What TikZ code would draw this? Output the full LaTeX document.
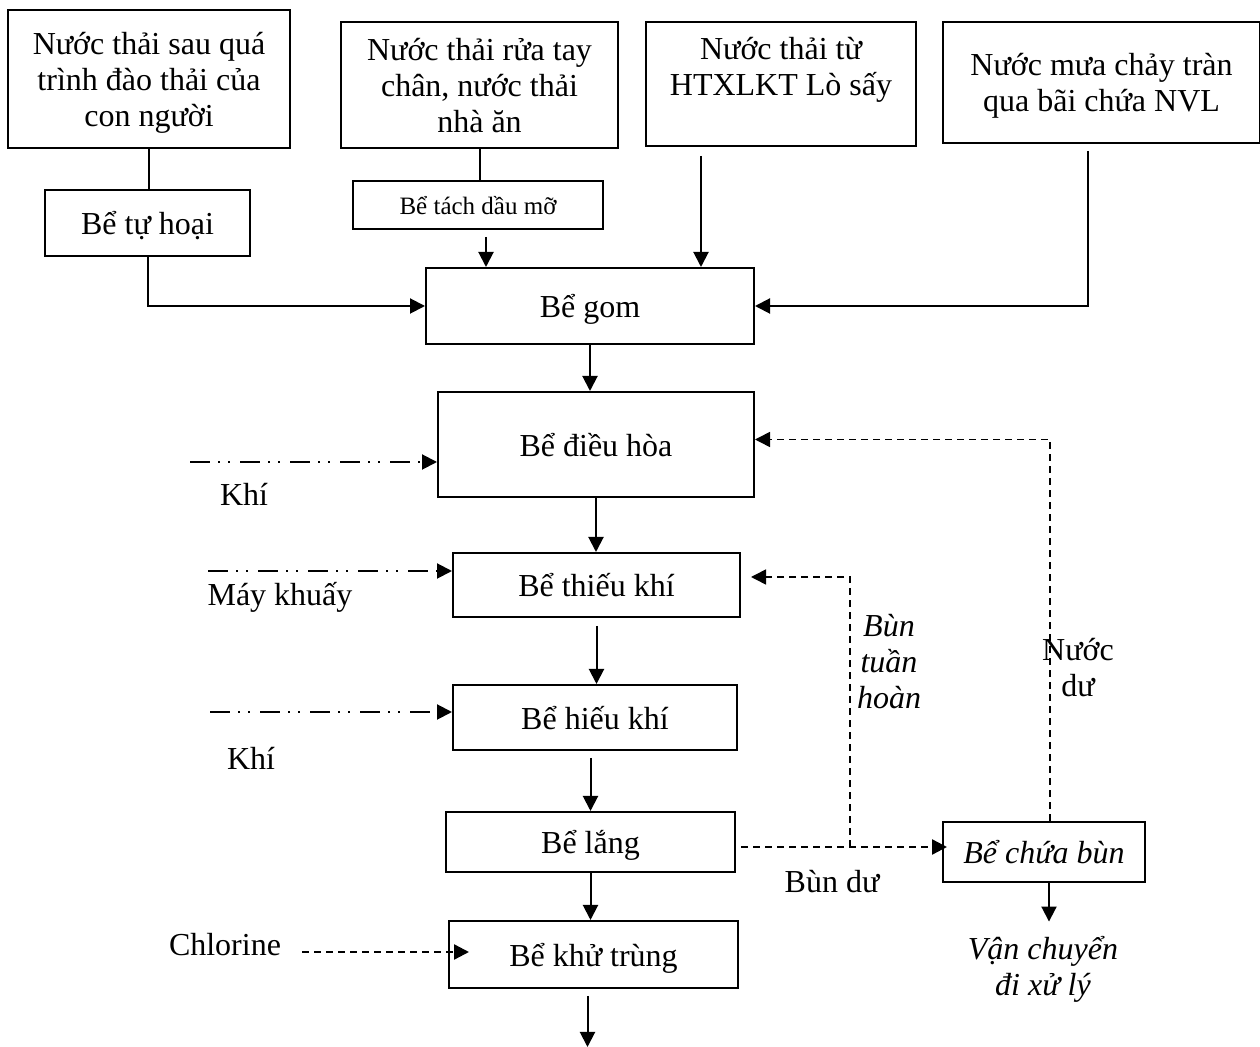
\documentclass[tikz,border=0pt]{standalone}
\usepackage{fontspec}
\setmainfont{Liberation Serif}
\usetikzlibrary{arrows.meta}
\tikzset{
  box/.style={draw,line width=1pt,align=center,inner sep=2pt,text depth=0pt,font=\fontsize{16}{18}\selectfont},
  smallbox/.style={box,font=\fontsize{12.5}{14}\selectfont},
  lbl/.style={align=center,inner sep=0pt,font=\fontsize{16}{18}\selectfont},
  arrow/.style={-{Triangle[length=7.5pt,width=7.5pt]},line width=1pt},
  dasharrow/.style={arrow,line width=1.2pt,dash pattern=on 3.5pt off 2.5pt},
  gasarrow/.style={arrow,dash pattern=on 10pt off 4pt on 1pt off 4pt on 1pt off 5pt},
}
\begin{document}
\begin{tikzpicture}[x=0.5pt,y=-0.5pt]
  \useasboundingbox (0,0) rectangle (1260,1047);
  % sources
  \node[box,minimum width=141pt,minimum height=69pt] (top1) at (149,79) {Nước thải sau quá\\trình đào thải của\\con người};
  \node[box,minimum width=138.5pt,minimum height=63pt] (top2) at (479.5,85) {Nước thải rửa tay\\chân, nước thải\\nhà ăn};
  \node[box,minimum width=135pt,minimum height=62pt] (top3) at (781,84) {Nước thải từ\\HTXLKT Lò sấy\\\strut};
  \node[box,minimum width=158.5pt,minimum height=60.5pt] (top4) at (1101.5,82.5) {Nước mưa chảy tràn\\qua bãi chứa NVL};
  \node[box,minimum width=102.5pt,minimum height=33pt] (tuhoai) at (147.5,223) {Bể tự hoại};
  \node[smallbox,minimum width=125pt,minimum height=24pt] (tachdau) at (478,205) {Bể tách dầu mỡ};
  % treatment line
  \node[box,minimum width=164pt,minimum height=38pt] (gom) at (590,306) {Bể gom};
  \node[box,minimum width=158pt,minimum height=52.5pt] (dieuhoa) at (596,444.5) {Bể điều hòa};
  \node[box,minimum width=143.5pt,minimum height=32pt] (thieukhi) at (596.5,585) {Bể thiếu khí};
  \node[box,minimum width=142pt,minimum height=32.5pt] (hieukhi) at (595,717.5) {Bể hiếu khí};
  \node[box,minimum width=144.5pt,minimum height=30pt] (lang) at (590.5,842) {Bể lắng};
  \node[box,minimum width=144.5pt,minimum height=33.5pt] (khutrung) at (593.5,954.5) {Bể khử trùng};
  \node[box,minimum width=101pt,minimum height=30pt,font=\fontsize{16}{18}\selectfont\itshape] (chuabun) at (1044,852) {Bể chứa bùn};
  % labels
  \node[lbl] (khi1) at (244,494) {Khí};
  \node[lbl] (khuay) at (280,597) {Máy khuấy};
  \node[lbl] (khi2) at (251,758) {Khí};
  \node[lbl] (chlorine) at (225,945) {Chlorine};
  \node[lbl] (bundu) at (832,882) {Bùn dư};
  \node[lbl,font=\fontsize{16}{18}\selectfont\itshape] (tuanhoan) at (889,662) {Bùn\\tuần\\hoàn};
  \node[lbl] (nuocdu) at (1078,668) {Nước\\dư};
  \node[lbl,font=\fontsize{16}{18}\selectfont\itshape] (vanchuyen) at (1043,969) {Vận chuyển\\đi xử lý};
  \coordinate (gasA) at (190,462);
  \coordinate (gasB) at (208,571);
  \coordinate (gasC) at (210,712);
  \coordinate (split) at (850,847);
  \coordinate (out) at (587.5,1047);
  % connectors
  \draw[line width=1pt] (top1.south) -- (top1.south |- tuhoai.north);
  \draw[arrow] (tuhoai.south) |- (gom.west);
  \draw[line width=1pt] (top2.south) -- (top2.south |- tachdau.north);
  \draw[arrow] ([shift={(8,7)}]tachdau.south) -- ([shift={(8,0)}]tachdau.south |- gom.north);
  \draw[arrow] ([shift={(-80,9)}]top3.south) -- ([shift={(-80,0)}]top3.south |- gom.north);
  \draw[arrow] ([shift={(-13.5,7)}]top4.south) |- (gom.east);
  \draw[arrow] (gom.south) -- (gom.south |- dieuhoa.north);
  \draw[arrow] (dieuhoa.south) -- (dieuhoa.south |- thieukhi.north);
  \draw[arrow] ([shift={(0,8)}]thieukhi.south) -- (thieukhi.south |- hieukhi.north);
  \draw[arrow] ([shift={(0,7)}]lang.north |- hieukhi.south) -- (lang.north);
  \draw[arrow] (lang.south) -- (lang.south |- khutrung.north);
  \draw[arrow] ([shift={(-6,7)}]khutrung.south) -- (out);
  \draw[gasarrow] (gasA) -- (gasA -| dieuhoa.west);
  \draw[gasarrow] (gasB) -- (gasB -| thieukhi.west);
  \draw[gasarrow] (gasC) -- (gasC -| hieukhi.west);
  \draw[dasharrow] ([shift={(21,7)}]chlorine.east) -- ([shift={(21,7)}]chlorine.east -| khutrung.west);
  \draw[dasharrow] ([shift={(5,5)}]lang.east) -- ([shift={(5,5)}]lang.east -| chuabun.west);
  \draw[dasharrow,line width=0.8pt] (split) |- ([shift={(10,-8)}]thieukhi.east);
  \draw[dasharrow,line width=0.8pt] ([shift={(6,0)}]chuabun.north) |- ([shift={(0,-5)}]dieuhoa.east);
  \draw[arrow,shorten >=7pt] ([shift={(5,0)}]chuabun.south) -- ([shift={(5,0)}]chuabun.south |- vanchuyen.north);
\end{tikzpicture}
\end{document}
